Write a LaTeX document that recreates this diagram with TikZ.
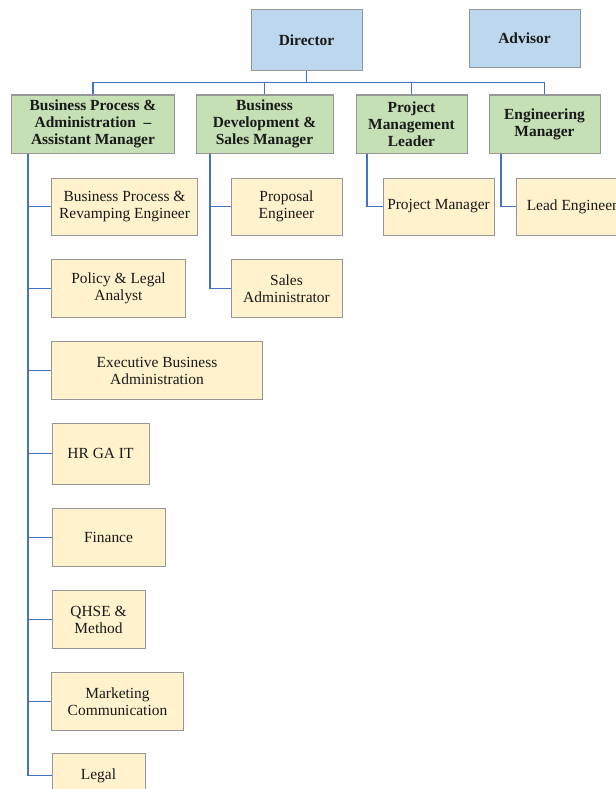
\documentclass[tikz,border=0pt]{standalone}
\usepackage{fontspec}
\setmainfont{Liberation Serif}
\definecolor{topblue}{RGB}{189,215,238}
\definecolor{mgrgreen}{RGB}{197,224,180}
\definecolor{staffyellow}{RGB}{255,242,204}
\definecolor{edgegray}{RGB}{150,150,150}
\definecolor{linkblue}{RGB}{68,114,196}

\begin{document}
\begin{tikzpicture}[x=1bp, y=-1bp,
    box/.style={rectangle, draw=edgegray, line width=1bp, inner sep=2pt,
                minimum height=58bp, align=center, text=black!90,
                font=\rmfamily\fontsize{15.5}{17}\selectfont},
    boss/.style={box, fill=topblue, font=\rmfamily\fontsize{15.5}{17}\selectfont\bfseries},
    mgr/.style={box, fill=mgrgreen, font=\rmfamily\fontsize{15.5}{17}\selectfont\bfseries},
    staff/.style={box, fill=staffyellow},
    link/.style={draw=linkblue, line width=1.5bp}]
    \useasboundingbox (0,0) rectangle (616,789);

    % Top
    \node[boss, minimum width=111bp, minimum height=61bp] (director) at (306.5,40) {Director};
    \node[boss, minimum width=111bp] (advisor) at (524.5,38.5) {Advisor};
    \coordinate (bus) at (306.5,82.5);

    % Managers
    \node[mgr, minimum width=162bp] (bpa) at (93,124) {Business Process \&\\Administration~~–\\Assistant Manager};
    \node[mgr, minimum width=137bp] (bd) at (264.5,124) {Business\\Development \&\\Sales Manager};
    \node[mgr, minimum width=111bp] (pml) at (411.5,124) {Project\\Management\\Leader};
    \node[mgr, minimum width=111bp] (em) at (544.5,124) {Engineering\\Manager};

    % Staff
    \node[staff, minimum width=145bp, minimum height=57bp] (bpre) at (124.5,206.5) {Business Process \&\\Revamping Engineer};
    \node[staff, minimum width=133bp] (policy) at (118.5,288.5) {Policy \& Legal\\Analyst};
    \node[staff, minimum width=210bp] (exec) at (157,370.5) {Executive Business\\Administration};
    \node[staff, minimum width=97bp, minimum height=61bp] (hr) at (100.5,453.5) {HR GA IT};
    \node[staff, minimum width=113bp] (finance) at (108.5,537.5) {Finance};
    \node[staff, minimum width=93bp] (qhse) at (98.5,619.5) {QHSE \&\\Method};
    \node[staff, minimum width=131bp] (mkt) at (117.5,701.5) {Marketing\\Communication};
    \node[staff, minimum width=93bp, minimum height=44bp] (legal) at (98.5,775.5) {Legal};

    \node[staff, minimum width=111bp, minimum height=57bp] (prop) at (286.5,206.5) {Proposal\\Engineer};
    \node[staff, minimum width=111bp] (sales) at (286.5,288.5) {Sales\\Administrator};
    \node[staff, minimum width=111bp, minimum height=57bp] (pm) at (438.5,206.5) {Project Manager};
    \node[staff, minimum width=111bp, minimum height=57bp] (lead) at (572,206.5) {Lead Engineer};

    % Lines
    \draw[link] (director.south) -- (bus);
    \foreach \m in {bpa,bd,pml,em}
        \draw[link] (bus) -| (\m.north);
    \foreach \s in {bpre,policy,exec,hr,finance,qhse,mkt,legal}
        \draw[link] ([xshift=16.5bp]bpa.south west) |- (\s.west);
    \foreach \s in {prop,sales}
        \draw[link] ([xshift=14.5bp]bd.south west) |- (\s.west);
    \draw[link] ([xshift=11.5bp]pml.south west) |- (pm.west);
    \draw[link] ([xshift=12.5bp]em.south west) |- (lead.west);
\end{tikzpicture}
\end{document}
